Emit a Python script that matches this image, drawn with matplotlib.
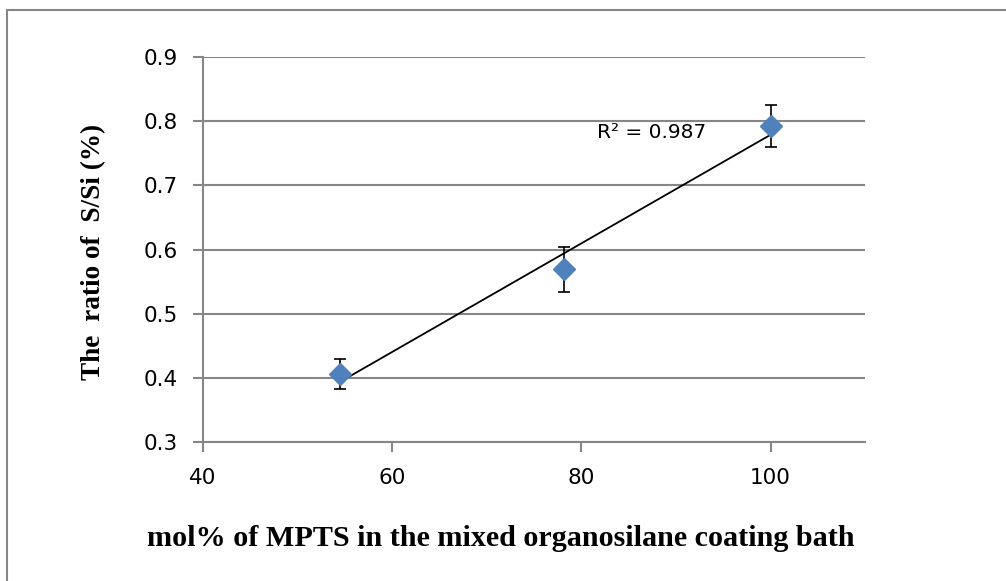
import numpy as np
import matplotlib
matplotlib.use("Agg")
import matplotlib.pyplot as plt
from matplotlib.patches import Rectangle

# data
mpts = [54.5, 78.2, 100]
ratio = [0.406, 0.569, 0.792]
err = [0.023, 0.035, 0.033]
r2_label = "R² = 0.987"

xticks = [40, 60, 80, 100]
yticks = [0.3, 0.4, 0.5, 0.6, 0.7, 0.8, 0.9]

grid_col = "#868686"

fig = plt.figure(figsize=(10.06, 5.81), dpi=100)
ax = fig.add_axes([0.2018, 0.2392, 0.6582, 0.6627])

# linear trendline over the data range
coef = np.polyfit(mpts, ratio, 1)
xs = np.array([min(mpts), max(mpts)])
ax.plot(xs, np.polyval(coef, xs), color="black", lw=1.3, zorder=3)

ax.errorbar(mpts, ratio, yerr=err, fmt="none", ecolor="black", elinewidth=1.2,
            capsize=4, capthick=1.2, zorder=4)
ax.plot(mpts, ratio, linestyle="none", marker="D", markersize=11,
        color="#4F81BD", markeredgecolor="#4F81BD", zorder=5)

ax.text(81.7, 0.783, r2_label, fontsize=14.5, family="DejaVu Sans", va="center", ha="left")

ax.set_xlim(40, 110)
ax.set_ylim(0.3, 0.9)
ax.set_xticks(xticks)
ax.set_yticks(yticks)
ax.set_yticklabels([f"{v:.1f}" for v in yticks])
ax.grid(axis="y", color=grid_col, lw=1.5)
ax.set_axisbelow(True)

for s in ["top", "right"]:
    ax.spines[s].set_visible(False)
ax.spines["left"].set_color(grid_col)
ax.spines["bottom"].set_color(grid_col)
ax.spines["left"].set_linewidth(1.5)
ax.spines["bottom"].set_linewidth(1.5)
ax.tick_params(axis="both", color=grid_col, width=1.5, length=7, labelsize=15.5)
ax.tick_params(axis="y", pad=11)
ax.tick_params(axis="x", pad=12)

fig.text(0.498, 0.074, "mol% of MPTS in the mixed organosilane coating bath",
         ha="center", va="center", fontsize=21.7, fontweight="bold",
         family="Liberation Serif")
fig.text(0.093, 0.566, "The  ratio of  S/Si (%)", rotation=90,
         ha="center", va="center", fontsize=19.6, fontweight="bold",
         family="Liberation Serif")

# outer chart border (right and bottom fall outside the image)
fig.patches.append(Rectangle((7 / 1006, -0.05), 1.2, 1 - 10 / 581 + 0.05,
                             transform=fig.transFigure, fill=False,
                             edgecolor=grid_col, lw=1.5))

fig.savefig("out.png", dpi=100)
